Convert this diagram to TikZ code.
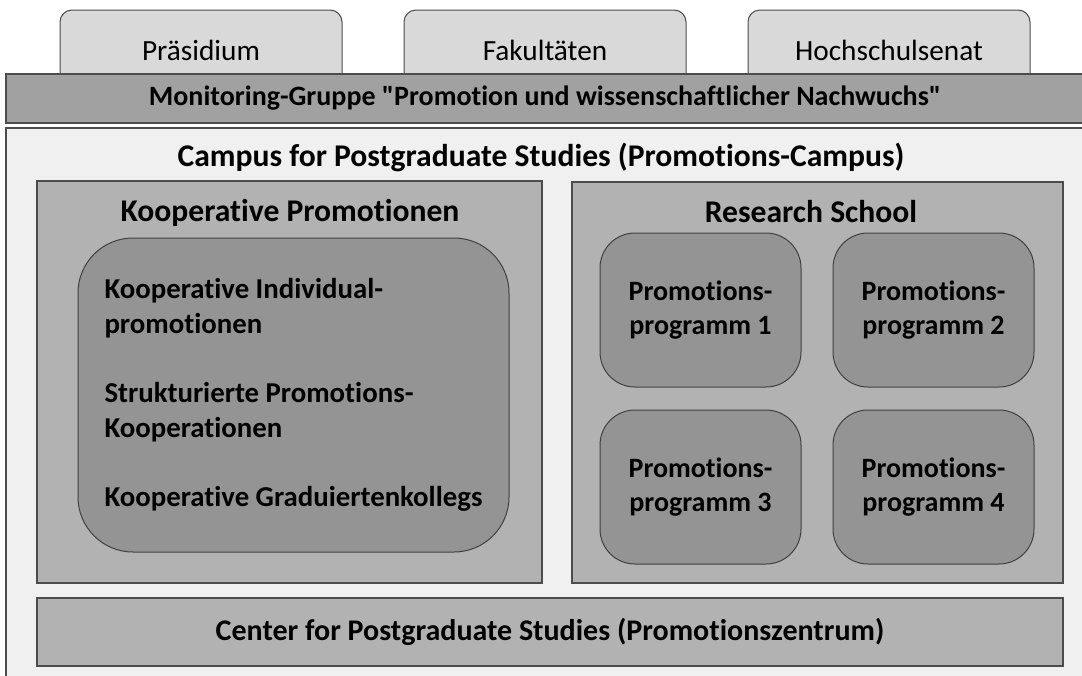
\documentclass[tikz,border=0pt]{standalone}
\usepackage{fontspec}
\setmainfont{Carlito}[Ligatures=NoCommon]
\usetikzlibrary{positioning}

\begin{document}
\begin{tikzpicture}[
  x=1pt, y=-1pt,
  tab/.style={draw=black!70, fill=black!15, line width=1pt, rounded corners=12pt,
    minimum width=282pt, minimum height=80pt, font=\fontsize{29.3}{34}\selectfont},
  band/.style={draw=black!70, fill=black!37, line width=1.6pt, inner sep=0pt},
  area/.style={draw=black!70, fill=black!30, line width=1.2pt, inner sep=0pt},
  prog/.style={draw=black!75, fill=black!42, line width=1pt, rounded corners=35pt,
    minimum width=201pt, minimum height=154pt, align=center, inner sep=0pt,
    font=\bfseries\fontsize{28}{34}\selectfont},
  title/.style={font=\bfseries\fontsize{31.6}{36}\selectfont, inner sep=0pt}
]
  \useasboundingbox (0,0) rectangle (1082,675);

  % Gremien oben (Unterkante liegt unter dem Balken)
  \node[tab] (praes) at (201,50) {Präsidium};
  \node[tab] (fak)   at (545,50) {Fakultäten};
  \node[tab] (senat) at (889,50) {Hochschulsenat};

  % Balken und Campus
  \node[band, minimum width=1078pt, minimum height=49pt] (monitor) at (545,98.5) {};
  \node[title, font=\bfseries\fontsize{28}{34}\selectfont] at (monitor.center)
    {Monitoring-Gruppe \textquotedbl Promotion und wissenschaftlicher Nachwuchs\textquotedbl};
  \node[band, fill=black!6, minimum width=1084pt, minimum height=562pt] (campus) at (548,409) {};
  \node[title] (campustitle) at (541,157) {Campus for Postgraduate Studies (Promotions-Campus)};

  % linke Seite
  \node[area, minimum width=505pt, minimum height=402pt] (koop) at (289.5,382) {};
  \node[title] (kooptitle) at (290,213) {Kooperative Promotionen};
  \node[draw=black!75, fill=black!42, line width=1pt, rounded corners=55pt,
    minimum width=431pt, minimum height=314pt, align=left,
    font=\bfseries\fontsize{28.8}{35}\selectfont] (koopinner) at (293.5,395)
    {Kooperative Individual-\\promotionen\\[34pt]Strukturierte Promotions-\\Kooperationen\\[34pt]Kooperative Graduiertenkollegs};

  % rechte Seite
  \node[area, minimum width=491pt, minimum height=401pt] (school) at (817.5,382.5) {};
  \node[title] (schooltitle) at (811,212) {Research School};
  \node[prog] (prog1) at (700.5,310) {Promotions-\\programm 1};
  \node[prog, right=31pt of prog1] (prog2) {Promotions-\\programm 2};
  \node[prog, below=22pt of prog1] (prog3) {Promotions-\\programm 3};
  \node[prog, right=31pt of prog3] (prog4) {Promotions-\\programm 4};

  % unten
  \node[band, fill=black!30, minimum width=1026pt, minimum height=68pt] (zentrum) at (550,632) {};
  \node[title, font=\bfseries\fontsize{30}{36}\selectfont] at (zentrum.center)
    {Center for Postgraduate Studies (Promotionszentrum)};
\end{tikzpicture}
\end{document}
